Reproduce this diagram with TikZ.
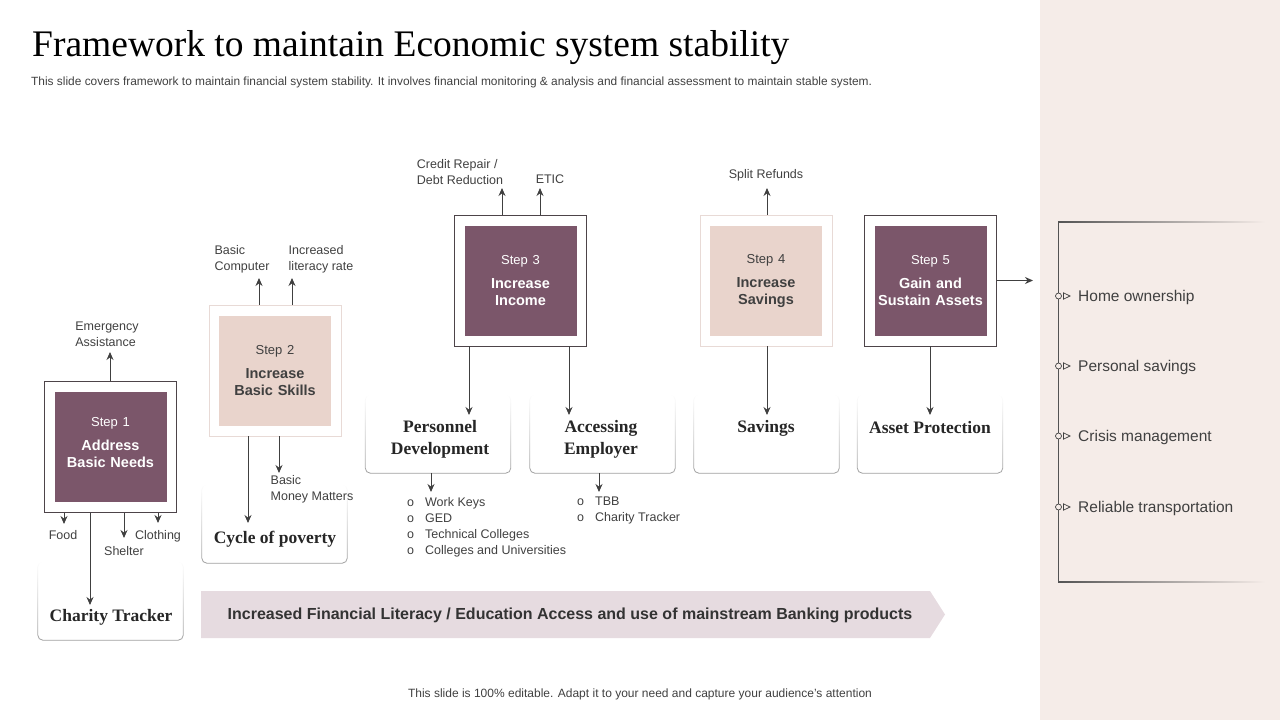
\documentclass[tikz,border=0pt]{standalone}
\usepackage{fontspec}
\setmainfont{Liberation Serif}
\setsansfont{Liberation Sans}
\usetikzlibrary{arrows.meta,fadings}

\definecolor{plum}{HTML}{7B566A}
\definecolor{blush}{HTML}{E9D4CC}
\definecolor{pale}{HTML}{E8DAD6}
\definecolor{frame}{HTML}{4D4449}
\definecolor{panel}{HTML}{F5ECE8}
\definecolor{band}{HTML}{E6DBE0}
\definecolor{ink}{HTML}{404040}

\begin{document}
\begin{tikzpicture}[x=1pt,y=-1pt,
    every edge/.style={draw=ink,line width=.9pt,-{Stealth[length=8pt,width=7pt]}}]

        \useasboundingbox (0,0) rectangle (1280,720);
        \fill[panel] (1040,0) rectangle (1280,720);

        % heading
        \node[anchor=base west,inner sep=0,font=\fontsize{37.5}{40}\selectfont] (title) at (32,56)
          {Framework to maintain Economic system stability};
        \node[anchor=base west,inner sep=0,text=ink,font=\sffamily\fontsize{11.9}{13}\selectfont] (sub) at (31,85)
          {This slide covers framework to maintain financial system stability. It involves financial monitoring \& analysis and financial assessment to maintain stable system.};

        % outer frames
        \begin{scope}[every node/.style={draw=frame,line width=.8pt,fill=white,minimum width=132,minimum height=131,inner sep=0}]
          \node (1) at (110.5,447) {};
          \node[draw=pale] (2) at (275,370.5) {};
          \node (3) at (520.5,280.5) {};
          \node[draw=pale] (4) at (766,280.5) {};
          \node (5) at (930.5,280.5) {};
        \end{scope}

        % step boxes
        \begin{scope}[every node/.style={fill=plum,text=white,minimum width=112,minimum height=110,
            text width=110,align=center,inner sep=0,font=\sffamily\bfseries\fontsize{14.5}{17}\selectfont}]
          \node (s1) at (1) {{\mdseries\fontsize{13}{15}\selectfont Step 1}\\[7pt]Address\\Basic Needs\\[-7pt]\mbox{}};
          \node[fill=blush,text=ink] (s2) at (2) {{\mdseries\fontsize{13}{15}\selectfont Step 2}\\[7pt]Increase\\Basic Skills};
          \node (s3) at (3) {{\mdseries\fontsize{13}{15}\selectfont Step 3}\\[7pt]Increase\\Income};
          \node[fill=blush,text=ink] (s4) at (4) {{\mdseries\fontsize{13}{15}\selectfont Step 4}\\[7pt]Increase\\Savings};
          \node (s5) at (5) {{\mdseries\fontsize{13}{15}\selectfont Step 5}\\[7pt]Gain and\\Sustain Assets};
        \end{scope}

        % outcome boxes
        \begin{scope}[every node/.style={minimum width=145,minimum height=78,inner sep=0}]
          \node (ct) at (110.5,601) {};
          \node (cp) at (274.5,524) {};
          \node (pd) at (438,434) {};
          \node (ae) at (602.5,434) {};
          \node (sv) at (766.5,434) {};
          \node (ap) at (930,434) {};
        \end{scope}
        \foreach \b in {ct,cp,pd,ae,sv,ap}
          \draw[gray!75,line width=.8pt,rounded corners=5pt,path fading=north] (\b.south west) rectangle (\b.north east);

        \begin{scope}[every node/.style={align=center,inner sep=1pt,text=black!85,font=\bfseries\fontsize{17.5}{22}\selectfont}]
          \node (ctl) at (111,617) {Charity Tracker};
          \node (cpl) at (275,539) {Cycle of poverty};
          \node (pdl) at (440,439) {Personnel\\Development};
          \node (ael) at (601,439) {Accessing\\Employer};
          \node (svl) at (766,428) {Savings};
          \node (apl) at (930,428) {Asset Protection};
        \end{scope}

        % small labels
        \begin{scope}[every node/.style={align=left,inner sep=1pt,text=ink,font=\sffamily\fontsize{12.5}{16}\selectfont}]
          \node (ea) at (107,334) {Emergency\\Assistance};
          \node (fd) at (63,535) {Food};
          \node (cl) at (158,536) {Clothing};
          \node (sh) at (124,551) {Shelter};
          \node (bc) at (242,259) {Basic\\Computer};
          \node (lr) at (321,259) {Increased\\literacy rate};
          \node (mm) at (312,489) {Basic\\Money Matters};
          \node (cr) at (460,172) {Credit Repair /\\Debt Reduction};
          \node (et) at (550,179) {ETIC};
          \node (sr) at (766,175) {Split Refunds};
          \node[anchor=west] (wk) at (406,527) {\begin{tabular}{@{}l@{\hspace{11pt}}l@{}}o&Work Keys\\o&GED\\o&Technical Colleges\\o&Colleges and Universities\end{tabular}};
          \node[anchor=west] (tb) at (576,510) {\begin{tabular}{@{}l@{\hspace{11pt}}l@{}}o&TBB\\o&Charity Tracker\end{tabular}};
        \end{scope}

        % arrow tips
        \coordinate (a1) at (110,352);
        \coordinate (a2) at (64,524);
        \coordinate (a3) at (90,605);
        \coordinate (a4) at (124,538);
        \coordinate (a5) at (158,523);
        \coordinate (b1) at (259,278);
        \coordinate (b2) at (292,278);
        \coordinate (b3) at (248,523);
        \coordinate (b4) at (279,473);
        \coordinate (c1) at (502,188);
        \coordinate (c2) at (540,188);
        \coordinate (c3) at (469,415);
        \coordinate (c4) at (569,415);
        \coordinate (c5) at (431,492);
        \coordinate (c6) at (599,492);
        \coordinate (d1) at (767,188);
        \coordinate (d2) at (767,415);
        \coordinate (e1) at (1033,280.5);
        \coordinate (e2) at (930,415);

        \path (1.north -| a1) edge (a1);
        \path (1.south -| a2) edge (a2);
        \path (1.south -| a3) edge (a3);
        \path (1.south -| a4) edge (a4);
        \path (1.south -| a5) edge (a5);
        \path (2.north -| b1) edge (b1);
        \path (2.north -| b2) edge (b2);
        \path (2.south -| b3) edge (b3);
        \path (2.south -| b4) edge (b4);
        \path (3.north -| c1) edge (c1);
        \path (3.north -| c2) edge (c2);
        \path (3.south -| c3) edge (c3);
        \path (3.south -| c4) edge (c4);
        \path (pd.south -| c5) edge (c5);
        \path (ae.south -| c6) edge (c6);
        \path (4.north -| d1) edge (d1);
        \path (4.south -| d2) edge (d2);
        \path (5.east) edge (e1);
        \path (5.south -| e2) edge (e2);

        % banner
        \fill[band] (201,591) -- (930,591) -- (945,614.5) -- (930,638) -- (201,638) -- cycle;
        \node[text=black!80,font=\sffamily\bfseries\fontsize{16}{18}\selectfont] (lit) at (570,615)
          {Increased Financial Literacy / Education Access and use of mainstream Banking products};

        % right panel
        \draw[ink!90,line width=.8pt] (1058,222) -- (1058,582);
        \shade[left color=ink!90,right color=panel] (1058,221.4) rectangle (1265,222.6);
        \shade[left color=ink!90,right color=panel] (1058,581.4) rectangle (1265,582.6);
        \foreach \y/\t [count=\i] in {296/Home ownership,366/Personal savings,436/Crisis management,507/Reliable transportation}{
          \node[anchor=base west,inner sep=0,text=ink,font=\sffamily\fontsize{15.5}{18}\selectfont] (g\i) at (1078,\y+5.5) {\t};
          \draw[ink,line width=.7pt,fill=panel] (1058.5,\y) circle (3);
          \draw[ink,line width=.7pt] (1063.5,\y-3.2) -- (1070,\y) -- (1063.5,\y+3.2) -- cycle;
        }

        \node[text=ink,font=\sffamily\fontsize{12}{14}\selectfont] (foot) at (640,694)
          {This slide is 100\% editable. Adapt it to your need and capture your audience's attention};

      \end{tikzpicture}
\end{document}
